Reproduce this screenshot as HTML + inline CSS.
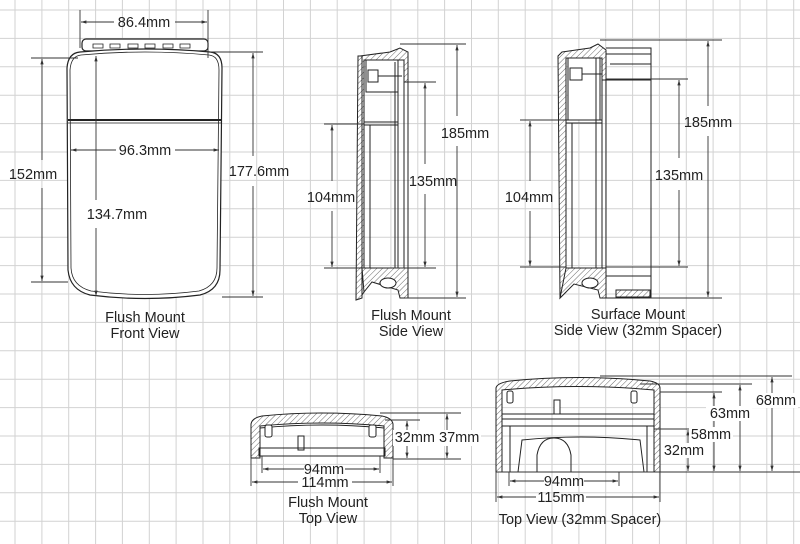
<!DOCTYPE html>
<html><head><meta charset="utf-8"><style>
html,body{margin:0;padding:0;background:#fff}
svg{display:block}
text{font-family:"Liberation Sans",Arial,sans-serif;font-size:14.5px;fill:#222}
</style></head><body>
<svg width="800" height="544" viewBox="0 0 800 544" xmlns="http://www.w3.org/2000/svg">
<defs>
<pattern id="h" width="4" height="4" patternUnits="userSpaceOnUse" patternTransform="rotate(45)"><rect width="4" height="4" fill="#fff"/><line x1="0" y1="0" x2="0" y2="4" stroke="#444" stroke-width="0.8"/></pattern>
<marker id="a" viewBox="0 0 10 10" refX="10" refY="5" markerWidth="6" markerHeight="6" orient="auto-start-reverse"><path d="M0,2 L10,5 L0,8z" fill="#333"/></marker>
</defs>
<g stroke="#d2d2d2" stroke-width="1">
<line x1="15" y1="0" x2="15" y2="544"/><line x1="41.9" y1="0" x2="41.9" y2="544"/><line x1="68.7" y1="0" x2="68.7" y2="544"/><line x1="95.6" y1="0" x2="95.6" y2="544"/><line x1="122.4" y1="0" x2="122.4" y2="544"/><line x1="149.3" y1="0" x2="149.3" y2="544"/><line x1="176.1" y1="0" x2="176.1" y2="544"/><line x1="203" y1="0" x2="203" y2="544"/><line x1="229.8" y1="0" x2="229.8" y2="544"/><line x1="256.7" y1="0" x2="256.7" y2="544"/><line x1="283.5" y1="0" x2="283.5" y2="544"/><line x1="310.4" y1="0" x2="310.4" y2="544"/><line x1="337.2" y1="0" x2="337.2" y2="544"/><line x1="364.1" y1="0" x2="364.1" y2="544"/><line x1="390.9" y1="0" x2="390.9" y2="544"/><line x1="417.8" y1="0" x2="417.8" y2="544"/><line x1="444.6" y1="0" x2="444.6" y2="544"/><line x1="471.5" y1="0" x2="471.5" y2="544"/><line x1="498.3" y1="0" x2="498.3" y2="544"/><line x1="525.2" y1="0" x2="525.2" y2="544"/><line x1="552" y1="0" x2="552" y2="544"/><line x1="578.9" y1="0" x2="578.9" y2="544"/><line x1="605.7" y1="0" x2="605.7" y2="544"/><line x1="632.6" y1="0" x2="632.6" y2="544"/><line x1="659.4" y1="0" x2="659.4" y2="544"/><line x1="686.3" y1="0" x2="686.3" y2="544"/><line x1="713.1" y1="0" x2="713.1" y2="544"/><line x1="740" y1="0" x2="740" y2="544"/><line x1="766.8" y1="0" x2="766.8" y2="544"/><line x1="793.7" y1="0" x2="793.7" y2="544"/>
<line x1="0" y1="10" x2="800" y2="10"/><line x1="0" y1="38.4" x2="800" y2="38.4"/><line x1="0" y1="66.8" x2="800" y2="66.8"/><line x1="0" y1="95.2" x2="800" y2="95.2"/><line x1="0" y1="123.6" x2="800" y2="123.6"/><line x1="0" y1="152" x2="800" y2="152"/><line x1="0" y1="180.4" x2="800" y2="180.4"/><line x1="0" y1="208.8" x2="800" y2="208.8"/><line x1="0" y1="237.2" x2="800" y2="237.2"/><line x1="0" y1="265.6" x2="800" y2="265.6"/><line x1="0" y1="294" x2="800" y2="294"/><line x1="0" y1="322.4" x2="800" y2="322.4"/><line x1="0" y1="350.8" x2="800" y2="350.8"/><line x1="0" y1="379.2" x2="800" y2="379.2"/><line x1="0" y1="407.6" x2="800" y2="407.6"/><line x1="0" y1="436" x2="800" y2="436"/><line x1="0" y1="464.4" x2="800" y2="464.4"/><line x1="0" y1="492.8" x2="800" y2="492.8"/><line x1="0" y1="521.2" x2="800" y2="521.2"/>
</g>

<g fill="none" stroke="#222" stroke-width="1.2">
<rect x="82" y="39" width="126" height="12" rx="4" fill="#fff"/>
<path d="M93,44h10v4h-10zM110,44h10v4h-10zM128,44h10v4h-10zM145,44h10v4h-10zM163,44h10v4h-10zM180,44h10v4h-10z" stroke-width="0.8"/>
<path d="M67,68 Q68,53 80,52 Q145,46 210,52 Q222,53 222,68 L220,270 Q220,290 200,295 Q145,302 90,295 Q70,290 68,270 Z" fill="#fff"/>
<path d="M70,70 Q71,56 81,55 Q145,49 209,55 Q219,56 219,70 L217,268 Q217,286 199,291 Q145,298 91,291 Q72,286 71,268 Z" stroke-width="0.8"/>
<line x1="68" y1="120" x2="222" y2="120" stroke-width="2"/>
<line x1="68" y1="123" x2="222" y2="123" stroke-width="0.7"/>
</g>

<g stroke="#333" stroke-width="0.9" fill="none">
<line x1="80" y1="10" x2="80" y2="48"/><line x1="208" y1="10" x2="208" y2="58"/>
<line x1="81" y1="22" x2="114" y2="22" marker-start="url(#a)"/><line x1="175" y1="22" x2="207" y2="22" marker-end="url(#a)"/>
<line x1="31" y1="58" x2="78" y2="58"/><line x1="31" y1="282" x2="68" y2="282"/>
<line x1="42" y1="59" x2="42" y2="160" marker-start="url(#a)"/><line x1="42" y1="188" x2="42" y2="281" marker-end="url(#a)"/>
<line x1="71" y1="150" x2="116" y2="150" marker-start="url(#a)"/><line x1="175" y1="150" x2="219" y2="150" marker-end="url(#a)"/>
<line x1="96" y1="56" x2="96" y2="200" marker-start="url(#a)"/><line x1="96" y1="228" x2="96" y2="296" marker-end="url(#a)"/>
<line x1="210" y1="52" x2="263" y2="52"/><line x1="222" y1="297" x2="263" y2="297"/>
<line x1="253" y1="53" x2="253" y2="156" marker-start="url(#a)"/><line x1="253" y1="186" x2="253" y2="296" marker-end="url(#a)"/>
</g>
<text x="144" y="27" text-anchor="middle">86.4mm</text>
<text x="33" y="179" text-anchor="middle">152mm</text>
<text x="145" y="155" text-anchor="middle">96.3mm</text>
<text x="117" y="219" text-anchor="middle">134.7mm</text>
<text x="259" y="176" text-anchor="middle">177.6mm</text>
<text x="145" y="322" text-anchor="middle">Flush Mount</text>
<text x="145" y="338" text-anchor="middle">Front View</text>

<g stroke="#222" stroke-width="1" fill="none">
<path d="M360,56 L390,52 L400,48 L408,52 L408,82 L404,82 L404,60 L364,60 L364,292 L360,298 Z" fill="url(#h)"/>
<path d="M358,56 L362,56 L362,298 L356,300 Z" fill="url(#h)"/>
<rect x="366" y="60" width="32" height="32" fill="#fff"/>
<rect x="368" y="70" width="10" height="12" fill="#fff"/>
<line x1="378" y1="76" x2="402" y2="76"/>
<line x1="364" y1="122" x2="398" y2="122"/><line x1="364" y1="125" x2="398" y2="125"/>
<line x1="370" y1="125" x2="370" y2="268"/><line x1="395" y1="62" x2="395" y2="268"/><line x1="398" y1="62" x2="398" y2="268"/><line x1="404" y1="82" x2="404" y2="268"/><line x1="408" y1="82" x2="408" y2="268"/>
<path d="M362,268 L408,268 L408,298 L400,298 L398,290 L372,282 L364,292 Z" fill="url(#h)"/>
<ellipse cx="388" cy="283" rx="8" ry="5" fill="#fff"/>
</g>
<g stroke="#333" stroke-width="0.9" fill="none">
<line x1="400" y1="44" x2="466" y2="44"/><line x1="405" y1="298" x2="466" y2="298"/>
<line x1="457" y1="45" x2="457" y2="116" marker-start="url(#a)"/><line x1="457" y1="146" x2="457" y2="297" marker-end="url(#a)"/>
<line x1="408" y1="82" x2="436" y2="82"/><line x1="394" y1="268" x2="436" y2="268"/>
<line x1="425" y1="83" x2="425" y2="164" marker-start="url(#a)"/><line x1="425" y1="194" x2="425" y2="267" marker-end="url(#a)"/>
<line x1="324" y1="124" x2="364" y2="124"/><line x1="324" y1="268" x2="364" y2="268"/>
<line x1="332" y1="125" x2="332" y2="181" marker-start="url(#a)"/><line x1="332" y1="211" x2="332" y2="267" marker-end="url(#a)"/>
</g>
<text x="465" y="138" text-anchor="middle">185mm</text>
<text x="433" y="186" text-anchor="middle">135mm</text>
<text x="331" y="202" text-anchor="middle">104mm</text>
<text x="411" y="320" text-anchor="middle">Flush Mount</text>
<text x="411" y="336" text-anchor="middle">Side View</text>

<g stroke="#222" stroke-width="1" fill="none">
<path d="M562,52 L590,48 L598,44 L606,50 L606,80 L602,80 L602,58 L566,58 L566,292 L560,298 L558,56 Z" fill="url(#h)"/>
<rect x="568" y="58" width="32" height="62" fill="#fff"/>
<rect x="570" y="68" width="12" height="12" fill="#fff"/>
<line x1="582" y1="74" x2="602" y2="74"/>
<line x1="566" y1="120" x2="602" y2="120"/><line x1="566" y1="123" x2="602" y2="123"/>
<line x1="572" y1="123" x2="572" y2="268"/><line x1="596" y1="58" x2="596" y2="268"/><line x1="602" y1="80" x2="602" y2="268"/><line x1="606" y1="80" x2="606" y2="268"/>
<path d="M606,48 L651,48 L651,298 L606,298"/>
<line x1="606" y1="54" x2="651" y2="54"/><line x1="610" y1="64" x2="651" y2="64"/><line x1="606" y1="80" x2="651" y2="80"/>
<line x1="606" y1="276" x2="651" y2="276"/>
<path d="M566,268 L606,268 L606,298 L600,298 L598,290 L574,284 L560,298 Z" fill="url(#h)"/>
<path d="M616,290 L650,290 L650,297 L616,297 Z" fill="url(#h)"/>
<ellipse cx="590" cy="283" rx="8" ry="5" fill="#fff"/>
</g>
<g stroke="#333" stroke-width="0.9" fill="none">
<line x1="600" y1="40" x2="722" y2="40"/><line x1="640" y1="298" x2="722" y2="298"/>
<line x1="708" y1="41" x2="708" y2="106" marker-start="url(#a)"/><line x1="708" y1="136" x2="708" y2="297" marker-end="url(#a)"/>
<line x1="606" y1="79" x2="688" y2="79"/><line x1="606" y1="267" x2="688" y2="267"/>
<line x1="679" y1="80" x2="679" y2="158" marker-start="url(#a)"/><line x1="679" y1="190" x2="679" y2="266" marker-end="url(#a)"/>
<line x1="520" y1="120" x2="566" y2="120"/><line x1="520" y1="267" x2="566" y2="267"/>
<line x1="530" y1="121" x2="530" y2="181" marker-start="url(#a)"/><line x1="530" y1="211" x2="530" y2="266" marker-end="url(#a)"/>
</g>
<text x="708" y="127" text-anchor="middle">185mm</text>
<text x="679" y="180" text-anchor="middle">135mm</text>
<text x="529" y="202" text-anchor="middle">104mm</text>
<text x="638" y="319" text-anchor="middle">Surface Mount</text>
<text x="638" y="335" text-anchor="middle">Side View (32mm Spacer)</text>

<g stroke="#222" stroke-width="1" fill="none">
<path d="M251,458 L251,424 Q252,418 262,416 Q320,410 382,416 Q392,418 393,424 L393,458 L384,458 L384,426 Q322,420 260,426 L260,458 Z" fill="url(#h)"/>
<path d="M260,428 Q322,422 384,428" />
<rect x="265" y="425" width="7" height="12" rx="2" fill="#fff"/><rect x="369" y="425" width="7" height="12" rx="2" fill="#fff"/>
<rect x="298" y="436" width="6" height="14" fill="#fff"/>
<rect x="259" y="448" width="126" height="8"/>
<line x1="264" y1="456" x2="380" y2="456"/>
</g>
<g stroke="#333" stroke-width="0.9" fill="none">
<line x1="380" y1="413" x2="461" y2="413"/><line x1="385" y1="420" x2="420" y2="420"/><line x1="393" y1="459" x2="461" y2="459"/>
<line x1="407" y1="421" x2="407" y2="458" marker-start="url(#a)" marker-end="url(#a)"/>
<line x1="447" y1="414" x2="447" y2="458" marker-start="url(#a)" marker-end="url(#a)"/>
<line x1="262" y1="456" x2="262" y2="473"/><line x1="380" y1="456" x2="380" y2="473"/>
<line x1="251" y1="458" x2="251" y2="486"/><line x1="393" y1="458" x2="393" y2="486"/>
<line x1="263" y1="469" x2="304" y2="469" marker-start="url(#a)"/><line x1="345" y1="469" x2="379" y2="469" marker-end="url(#a)"/>
<line x1="252" y1="482" x2="298" y2="482" marker-start="url(#a)"/><line x1="352" y1="482" x2="392" y2="482" marker-end="url(#a)"/>
</g>
<rect x="393" y="430" width="88" height="16" fill="#fff"/>
<text x="437" y="442" text-anchor="middle">32mm 37mm</text>
<text x="324" y="474" text-anchor="middle">94mm</text>
<text x="325" y="487" text-anchor="middle">114mm</text>
<text x="328" y="507" text-anchor="middle">Flush Mount</text>
<text x="328" y="523" text-anchor="middle">Top View</text>

<g stroke="#222" stroke-width="1" fill="none">
<path d="M496,472 L496,388 Q497,383 510,381 Q578,374 650,381 Q660,383 660,388 L660,472 L654,472 L654,390 Q578,383 502,390 L502,472 Z" fill="url(#h)"/>
<rect x="507" y="391" width="6" height="12" rx="2" fill="#fff"/><rect x="631" y="391" width="6" height="12" rx="2" fill="#fff"/>
<rect x="554" y="400" width="6" height="14" fill="#fff"/>
<line x1="502" y1="414" x2="654" y2="414"/><line x1="502" y1="419" x2="654" y2="419"/><line x1="502" y1="426" x2="654" y2="426"/>
<line x1="510" y1="426" x2="510" y2="472"/><line x1="647" y1="426" x2="647" y2="472"/>
<path d="M518,472 L522,440 Q580,434 640,440 L644,472"/>
<path d="M537,472 L537,455 Q540,438 554,438 Q568,438 571,455 L571,472"/>
</g>
<g stroke="#333" stroke-width="0.9" fill="none">
<line x1="600" y1="376" x2="792" y2="376"/><line x1="640" y1="384" x2="752" y2="384"/><line x1="660" y1="392" x2="722" y2="392"/><line x1="654" y1="429" x2="700" y2="429"/>
<line x1="496" y1="472" x2="800" y2="472"/>
<line x1="772" y1="377" x2="772" y2="471" marker-start="url(#a)" marker-end="url(#a)"/>
<line x1="740" y1="385" x2="740" y2="471" marker-start="url(#a)" marker-end="url(#a)"/>
<line x1="714" y1="393" x2="714" y2="471" marker-start="url(#a)" marker-end="url(#a)"/>
<line x1="688" y1="430" x2="688" y2="471" marker-start="url(#a)" marker-end="url(#a)"/>
<line x1="509" y1="472" x2="509" y2="486"/><line x1="619" y1="472" x2="619" y2="486"/>
<line x1="496" y1="472" x2="496" y2="502"/><line x1="660" y1="472" x2="660" y2="502"/>
<line x1="510" y1="481" x2="544" y2="481" marker-start="url(#a)"/><line x1="584" y1="481" x2="618" y2="481" marker-end="url(#a)"/>
<line x1="497" y1="497" x2="536" y2="497" marker-start="url(#a)"/><line x1="586" y1="497" x2="659" y2="497" marker-end="url(#a)"/>
</g>
<rect x="752" y="393" width="46" height="15" fill="#fff"/>
<text x="776" y="405" text-anchor="middle">68mm</text>
<rect x="706" y="406" width="46" height="15" fill="#fff"/>
<text x="730" y="418" text-anchor="middle">63mm</text>
<rect x="689" y="427" width="44" height="15" fill="#fff"/>
<text x="711" y="439" text-anchor="middle">58mm</text>
<rect x="663" y="443" width="44" height="15" fill="#fff"/>
<text x="684" y="455" text-anchor="middle">32mm</text>
<text x="564" y="486" text-anchor="middle">94mm</text>
<text x="561" y="502" text-anchor="middle">115mm</text>
<text x="580" y="524" text-anchor="middle">Top View (32mm Spacer)</text>
</svg>
</body></html>
